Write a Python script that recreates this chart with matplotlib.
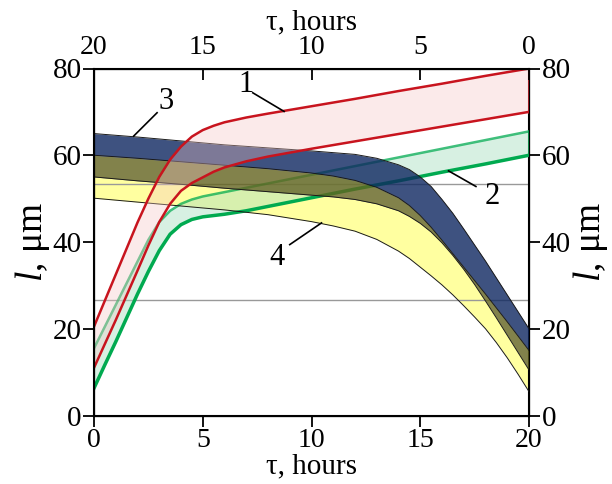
import numpy as np
import matplotlib
matplotlib.use('Agg')
import matplotlib.pyplot as plt

plt.rcParams['font.family'] = ['Liberation Serif', 'DejaVu Serif']
plt.rcParams['mathtext.fontset'] = 'custom'
plt.rcParams['mathtext.it'] = 'Liberation Serif:italic'
plt.rcParams['mathtext.rm'] = 'Liberation Serif'

# ---- data ----
# curves 1 (red) and 2 (green), tau in hours
t12 = [0, 0.5, 1, 1.5, 2, 2.5, 3, 3.5, 4, 4.5, 5, 5.5, 6, 7, 8, 10, 12, 14, 16, 18, 20]
red_upper = [20.5, 26.5, 32.5, 38.5, 44.5, 50, 55, 59, 62, 64.3, 65.8, 66.8, 67.6,
             68.7, 69.6, 71.3, 73.0, 74.8, 76.5, 78.3, 80]
red_lower = [11, 16.5, 22, 27.7, 33.4, 39.2, 44.6, 48.8, 51.8, 53.6, 54.9, 56.2, 57.2,
             58.6, 59.7, 61.5, 63.2, 64.9, 66.6, 68.3, 70]
green_upper = [15.5, 20.5, 25.5, 30.5, 35.5, 40.5, 44.6, 47.2, 48.8, 49.8, 50.5, 51.0, 51.5,
               52.5, 53.5, 55.5, 57.5, 59.5, 61.5, 63.5, 65.5]
green_lower = [6.3, 11.7, 17, 22.5, 28, 33.2, 38, 41.8, 44.0, 45.2, 45.8, 46.1, 46.4,
               47.2, 48.2, 50.2, 52.2, 54.1, 56.1, 58.0, 60]

# curves 3 (navy) and 4 (yellow)
t34 = [0, 2, 4, 6, 8, 10, 11, 12, 13, 14, 14.5, 15, 15.5, 16, 16.5, 17, 17.5, 18,
       18.5, 19, 19.5, 20]
band3_top = [65, 64.2, 63.3, 62.4, 61.7, 61.0, 60.6, 60.2, 59.3, 57.8, 56.7, 55.0, 52.8,
             49.8, 46.6, 43.0, 39.3, 35.6, 31.7, 27.8, 23.9, 20]
band4_top = [60, 59.3, 58.5, 57.7, 56.9, 55.9, 55.2, 54.2, 52.6, 50.2, 48.4, 46.1, 43.4,
             40.4, 37.3, 34.2, 31.1, 28.0, 24.8, 21.6, 18.3, 15]
band3_bot = [55, 54.1, 53.3, 52.4, 51.6, 50.8, 50.4, 49.8, 48.8, 47.2, 45.9, 44.3, 42.3,
             39.8, 36.9, 33.7, 30.2, 26.4, 22.5, 18.5, 14.5, 10.5]
band4_bot = [50.1, 49.2, 48.3, 47.4, 46.3, 44.7, 43.7, 42.5, 40.6, 37.9, 36.2, 34.2, 32.2,
             30.1, 27.8, 25.3, 22.7, 20.0, 16.8, 13.3, 9.5, 5.5]

# thin grey reference levels
ref_levels = [80 / 3, 160 / 3]

# curve labels: (text, text pos, leader start, leader end)
labels = [('1', (7.0, 76.2), (7.3, 74.4), (8.74, 70.1)),
          ('3', (3.3, 72.4), (2.9, 69.8), (1.82, 64.4)),
          ('2', (18.3, 50.6), (17.56, 52.8), (16.3, 56.4)),
          ('4', (8.4, 36.4), (9.0, 39.4), (10.46, 44.4))]

RED = '#c8141e'
GREEN = '#00aa50'
NAVY = '#0e2760'
OLIVE = '#63631e'
YELLOW = '#ffffa0'

fig = plt.figure(figsize=(6.12, 4.84), dpi=100)
ax = fig.add_axes([94 / 612, 68.5 / 484, 435 / 612, 347 / 484])

# yellow band (bottom layer)
ax.fill_between(t34, band4_bot, band3_bot, color=YELLOW, lw=0, zorder=2)

# reference lines
for lev in ref_levels:
    ax.plot([0, 20], [lev, lev], color='#999999', lw=1.0, zorder=2.5)

# green band
ax.fill_between(t12, green_lower, green_upper, color='#a8dfc0', alpha=0.45, lw=0, zorder=3)
ax.plot(t12, green_upper, color=GREEN, lw=1.8, alpha=0.75, zorder=4)
ax.plot(t12, green_lower, color=GREEN, lw=2.5, zorder=4)
ax.plot([20, 20], [green_lower[-1], green_upper[-1]], color=GREEN, lw=1.8, zorder=4)

# navy and olive parts of bands 3 / 4 (semi-transparent, lines show through)
ax.fill_between(t34, band3_bot, band4_top, color=OLIVE, alpha=0.8, lw=0, zorder=5)
ax.fill_between(t34, band4_top, band3_top, color=NAVY, alpha=0.8, lw=0, zorder=5)
for c in (band3_top, band4_top, band3_bot, band4_bot):
    ax.plot(t34, c, color='#1a1a1a', lw=0.7, zorder=6)

# red band on top
ax.fill_between(t12, red_lower, red_upper, color='#f4c4c4', alpha=0.35, lw=0, zorder=7)
ax.plot(t12, red_upper, color=RED, lw=1.8, zorder=8)
ax.plot(t12, red_lower, color=RED, lw=1.8, zorder=8)
ax.plot([20, 20], [red_lower[-1], red_upper[-1]], color=RED, lw=1.8, zorder=8)

# curve labels with leader lines
for txt, pos, p0, p1 in labels:
    ax.text(pos[0], pos[1], txt, fontsize=22, ha='center', va='center', zorder=9)
    ax.plot([p0[0], p1[0]], [p0[1], p1[1]], color='black', lw=1.2, zorder=9)

ax.set_xlim(0, 20)
ax.set_ylim(0, 80)
ax.set_xticks([0, 5, 10, 15, 20])
ax.set_yticks([0, 20, 40, 60, 80])
ax.tick_params(axis='x', direction='out', length=8, width=1.3, labelsize=20, pad=1)
ax.tick_params(axis='y', direction='out', length=8, width=1.3, labelsize=21, pad=1)
ax.set_xlabel('τ, hours', fontsize=21, labelpad=0)
ax.set_ylabel('$l$, μm', fontsize=27, labelpad=0)
for s in ax.spines.values():
    s.set_linewidth(1.5)

# top axis (reversed time)
axt = ax.twiny()
axt.set_xlim(0, 20)
axt.set_xticks([0, 5, 10, 15, 20])
axt.set_xticklabels(['20', '15', '10', '5', '0'])
axt.tick_params(axis='x', direction='in', length=8, width=1.3, labelsize=20, pad=6)
axt.set_xlabel('τ, hours', fontsize=21, labelpad=4)

# right axis
axr = ax.twinx()
axr.set_ylim(0, 80)
axr.set_yticks([0, 20, 40, 60, 80])
axr.tick_params(axis='y', direction='out', length=8, width=1.3, labelsize=21, pad=1)
axr.set_ylabel('$l$, μm', fontsize=27, labelpad=0, rotation=90)

plt.savefig('out.png', dpi=100)
